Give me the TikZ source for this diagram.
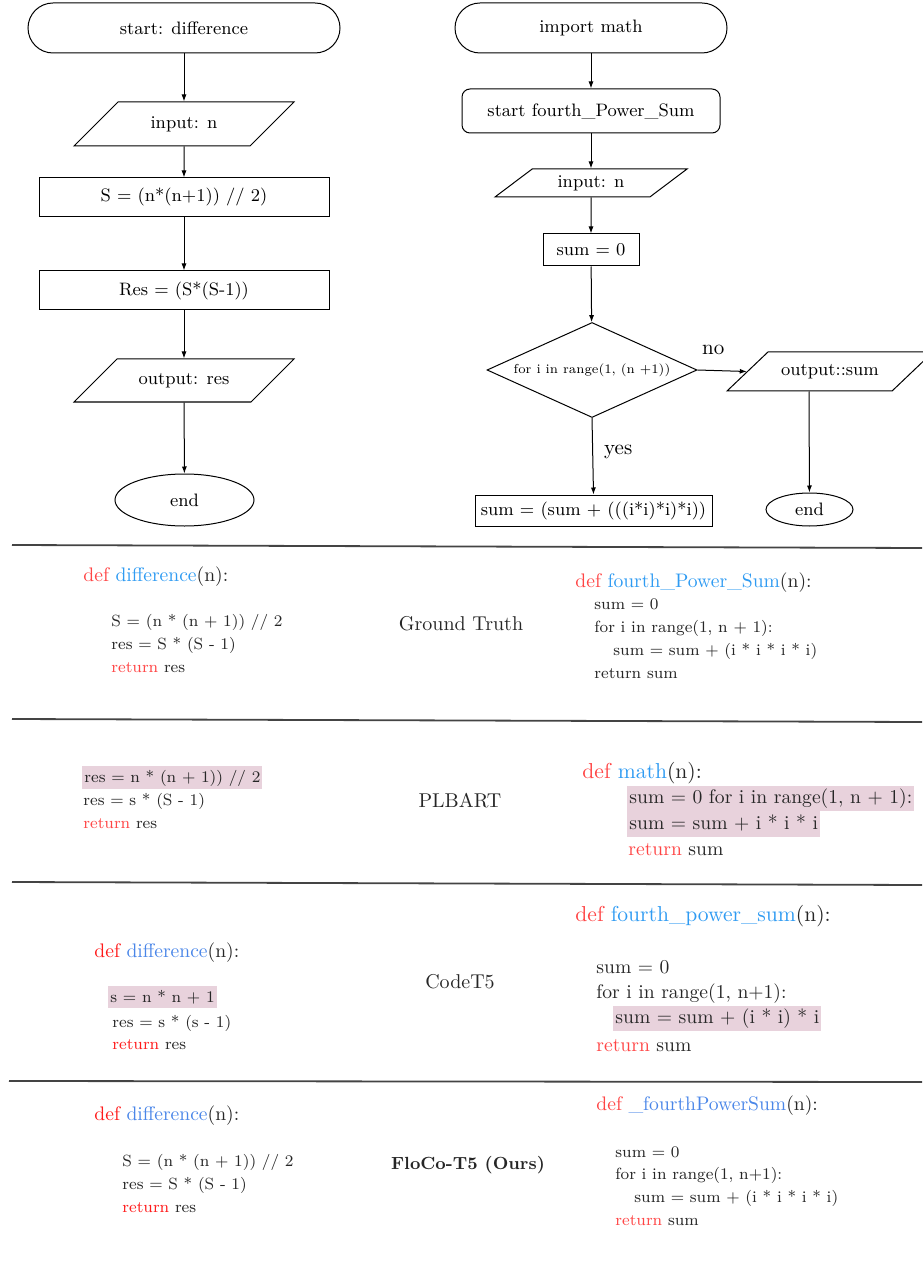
\documentclass[tikz,border=0pt]{standalone}
\usepackage{xcolor}
\usetikzlibrary{shapes.geometric, arrows.meta}

\definecolor{kwred}{HTML}{FF4545}
\definecolor{kwredb}{HTML}{FF1A1A}
\definecolor{fnblue}{HTML}{2F9BF2}
\definecolor{fnblueb}{HTML}{4A86E8}
\definecolor{hlpink}{HTML}{E8D2DC}
\definecolor{sepgray}{HTML}{444444}

\newcommand{\kwd}[1]{\textcolor{kwred}{#1}}
\newcommand{\kwdb}[1]{\textcolor{kwredb}{#1}}
\newcommand{\fname}[1]{\textcolor{fnblue}{#1}}
\newcommand{\fnameb}[1]{\textcolor{fnblueb}{#1}}

\tikzset{
  flow/.style={draw, line width=0.5pt, inner sep=0pt, font=\fontsize{9}{11}\selectfont},
  terminal/.style={flow, rectangle, rounded corners=12.5pt},
  process/.style={flow, rectangle},
  io/.style={flow, trapezium, trapezium left angle=45, trapezium right angle=135,
    trapezium stretches body, text height=6.5pt, text depth=2pt},
  decision/.style={flow, diamond, aspect=2.2},
  stop/.style={flow, ellipse},
  link/.style={-{Latex[length=3.5pt,width=2.5pt]}, line width=0.5pt},
  sepline/.style={draw=sepgray, line width=0.9pt},
  code/.style={anchor=west, inner sep=0pt, text height=1.6ex, text depth=0.4ex, text=black!85},
  codes/.style={code, font=\fontsize{8.1}{10}\selectfont},
  codem/.style={code, font=\fontsize{9.8}{12}\selectfont},
  codel/.style={code, font=\fontsize{10.8}{13}\selectfont},
  hl/.style={fill=hlpink, inner xsep=1pt},
  rowlabel/.style={inner sep=0pt, text=black!85, font=\fontsize{10}{12}\selectfont},
}

\begin{document}
\begin{tikzpicture}[x=0.5pt, y=-0.5pt]
%%%%%%%%%%%%%%%%%%%%%%%%%%%%%%%%%%%%%%%%%%% HELP LINES
%\draw[help lines] (0,0) grid (922,1261);
\useasboundingbox (0,0) rectangle (922,1261);

%%%%%%%%%%%%%%%%%%%%%%%%%%%%%%%%%%%%%%%%%%% flowchart difference
\node[terminal, minimum width=156pt, minimum height=25pt] (startL) at (184,28) {start: difference};
\node[io, inner ysep=6.75pt, minimum width=110pt] (inL) at (184,124) {input: n};
\node[process, minimum width=145pt, minimum height=19.5pt] (sL) at (184,197.5) {S = (n*(n+1)) // 2)};
\node[process, minimum width=145pt, minimum height=19.5pt] (resL) at (184,290.5) {Res = (S*(S-1))};
\node[io, inner ysep=6.5pt, minimum width=110pt] (outL) at (184,380.5) {output: res};
\node[stop, minimum width=69.5pt, minimum height=26pt] (endL) at (184.5,500) {end};

%%%%%%%%%%%%%%%%%%%%%%%%%%%%%%%%%%%%%%%%%%% flowchart fourth power sum
\node[terminal, minimum width=136pt, minimum height=25pt] (importR) at (591,28) {import math};
\node[process, rounded corners=4pt, minimum width=129pt, minimum height=22pt] (startR) at (591,111) {start fourth\_Power\_Sum};
\node[io, trapezium left angle=37, trapezium right angle=143, inner ysep=2.75pt, minimum width=96pt] (inR) at (591,183) {input: n};
\node[process, minimum width=48pt, minimum height=16pt] (sumR) at (591,250) {sum = 0};
\node[decision, minimum width=105pt, minimum height=47.5pt, font=\fontsize{6.5}{8}\selectfont] (loopR) at (592,370) {for i in range(1, (n +1))};
\node[io, trapezium left angle=43.6, trapezium right angle=136.4, inner ysep=5.5pt, minimum width=103pt] (outR) at (830,371.5) {output::sum};
\node[process, minimum width=118.5pt, minimum height=15.5pt] (addR) at (593.5,510.5) {sum = (sum + (((i*i)*i)*i))};
\node[stop, minimum width=43.5pt, minimum height=16.5pt] (endR) at (809.5,509.5) {end};

%%%%% edges
\draw[link] (startL) -- (inL);
\draw[link] (inL) -- (sL);
\draw[link] (sL) -- (resL);
\draw[link] (resL) -- (outL);
\draw[link] (outL) -- (endL);
\draw[link] (importR) -- (startR);
\draw[link] (startR) -- (inR);
\draw[link] (inR) -- (sumR);
\draw[link] (sumR) -- (loopR);
\draw[link] (loopR.east) -- node[pos=0.32, above=7.5pt, inner sep=0pt, font=\fontsize{10.5}{12}\selectfont]{no} (outR.left side);
\draw[link] (loopR.south) -- node[pos=0.44, right=5.5pt, inner sep=0pt, font=\fontsize{10.5}{12}\selectfont]{yes} (addR.north);
\draw[link] (outR.bottom side) -- (endR);

%%%%%%%%%%%%%%%%%%%%%%%%%%%%%%%%%%%%%%%%%%% separators
\draw[sepline] (12,545) -- (922,548);
\draw[sepline] (12,719) -- (922,722);
\draw[sepline] (12,882) -- (922,885);
\draw[sepline] (9,1081) -- (922,1082);

%%%%% ground truth
\node[codem] (gtdefL) at (83,576) {\kwd{def} \fname{difference}(n):};
\node[codes] (gtL1) at (111,621) {S = (n * (n + 1)) // 2};
\node[codes] (gtL2) at (111,644) {res = S * (S - 1)};
\node[codes] (gtL3) at (111,667) {\kwd{return} res};
\node[rowlabel] (gt) at (461,624) {Ground Truth};
\node[codem] (gtdefR) at (575,582) {\kwd{def} \fname{fourth\_Power\_Sum}(n):};
\node[codes] (gtR1) at (594,604) {sum = 0};
\node[codes] (gtR2) at (594,627) {for i in range(1, n + 1):};
\node[codes] (gtR3) at (613,650) {sum = sum + (i * i * i * i)};
\node[codes] (gtR4) at (594,673) {return sum};

%%%%% plbart
\node[codes, hl, minimum height=11.5pt] (plL1) at (82,777) {res = n * (n + 1)) // 2};
\node[codes] (plL2) at (83,800) {res = s * (S - 1)};
\node[codes] (plL3) at (83,823) {\kwd{return} res};
\node[rowlabel] (pl) at (460,801) {PLBART};
\node[codel] (pldefR) at (582,773) {\kwd{def} \fname{math}(n):};
\node[codem, hl, minimum height=12.5pt] (plR1) at (627,798.5) {sum = 0 for i in range(1, n + 1):};
\node[codem, hl, minimum height=13pt] (plR2) at (627,824) {sum = sum + i * i * i};
\node[codem] (plR3) at (628,850) {\kwd{return} sum};

%%%%% codet5
\node[codem] (ctdefL) at (94,952) {\kwdb{def} \fnameb{difference}(n):};
\node[codes, hl, minimum height=11pt] (ctL1) at (108,997) {s = n * n + 1};
\node[codes] (ctL2) at (112,1022) {res = s * (s - 1)};
\node[codes] (ctL3) at (112,1044) {\kwdb{return} res};
\node[rowlabel] (ct) at (460,982) {CodeT5};
\node[codel] (ctdefR) at (575,916) {\kwd{def} \fname{fourth\_power\_sum}(n):};
\node[codem] (ctR1) at (596,968) {sum = 0};
\node[codem] (ctR2) at (596,993) {for i in range(1, n+1):};
\node[codem, hl, minimum height=12.5pt] (ctR3) at (613,1018.5) {sum = sum + (i * i) * i};
\node[codem] (ctR4) at (596,1046) {\kwd{return} sum};

%%%%% floco-t5
\node[codem] (fcdefL) at (94,1115) {\kwdb{def} \fnameb{difference}(n):};
\node[codes] (fcL1) at (122,1161) {S = (n * (n + 1)) // 2};
\node[codes] (fcL2) at (122,1184) {res = S * (S - 1)};
\node[codes] (fcL3) at (122,1207) {\kwdb{return} res};
\node[rowlabel, font=\bfseries\fontsize{8.8}{10}\selectfont] (fc) at (468,1165) {FloCo-T5 (Ours)};
\node[codem] (fcdefR) at (596,1105) {\kwd{def} \fnameb{\_fourthPowerSum}(n):};
\node[codes] (fcR1) at (615,1152) {sum = 0};
\node[codes] (fcR2) at (615,1174) {for i in range(1, n+1):};
\node[codes] (fcR3) at (634,1197) {sum = sum + (i * i * i * i)};
\node[codes] (fcR4) at (615,1220) {\kwd{return} sum};
\end{tikzpicture}
\end{document}
